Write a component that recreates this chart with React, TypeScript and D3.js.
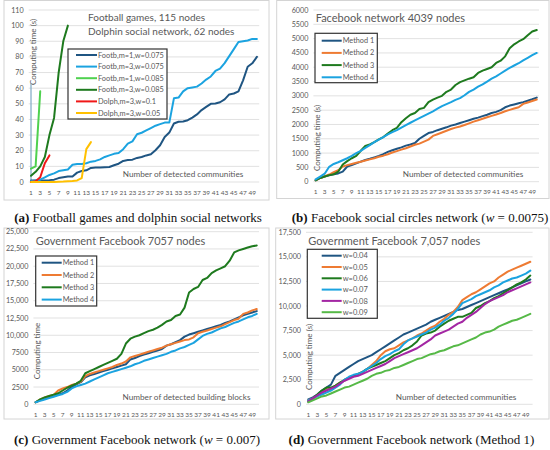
import React, { useEffect, useRef } from "react";
import * as d3 from "d3";

// category axis shared by all four panels
const communities = [
  1, 2, 3, 4, 5, 6, 7, 8, 9, 10, 11, 12, 13, 14, 15, 16, 17, 18, 19, 20, 21, 22, 23, 24, 25,
  26, 27, 28, 29, 30, 31, 32, 33, 34, 35, 36, 37, 38, 39, 40, 41, 42, 43, 44, 45, 46, 47, 48, 49, 50,
];

// (a) football games / dolphin social network
const footbM1W075 = [
  1, 1, 1, 1, 1.2, 1.5, 2.5, 3, 3.5, 3.5, 6, 7, 7.5, 9, 9.2, 9.2, 9.4, 9.6, 10.7, 11.7,
  13.5, 14, 14.3, 15.4, 16, 17, 17.7, 20.3, 23.5, 28.8, 31.6, 37.4, 38.5, 38.7, 39.5, 41.2, 43.2, 46, 48, 50,
  50.2, 51, 52.8, 56, 56.6, 58, 65, 73.7, 75.9, 80,
];
const footbM3W075 = [
  0.5, 1, 1.5, 3, 4.5, 5.5, 7, 7.5, 8, 11, 11.5, 11.5, 12, 13, 13.5, 14.5, 16, 17, 18, 18.5,
  21, 24.5, 26, 30.5, 31.5, 33, 34.5, 36, 37, 38, 38, 53.5, 54, 58, 60, 60.5, 61, 63, 65.5, 67.5,
  71, 72.5, 76, 80.5, 85, 89.5, 90, 90.5, 91.5, 91.5,
];
const footbM1W085 = [8.5, 10, 58];
const footbM3W085 = [4, 6.5, 10, 16, 30, 41, 70, 90, 100];
const dolphM3W1 = [0, 0.5, 3, 12, 17];
const dolphM3W05 = [0, 0, 0, 0, 0, 0, 0.2, 0.3, 0.5, 0.6, 1, 2.5, 21, 25.5];
const strayStroke = [63, 0]; // thin vertical stroke at category 1

// (b) Facebook network 4039 nodes
const fbMethod1 = [
  50, 130, 180, 220, 260, 290, 350, 530, 580, 640, 700, 760, 800, 850, 900, 960, 1040, 1100, 1150, 1200,
  1260, 1300, 1350, 1500, 1600, 1700, 1740, 1800, 1850, 1900, 1960, 2000, 2050, 2100, 2150, 2200, 2240, 2290, 2340, 2400,
  2440, 2500, 2600, 2660, 2700, 2740, 2780, 2830, 2880, 2940,
];
const fbMethod2 = [
  50, 130, 190, 250, 330, 400, 530, 580, 620, 660, 700, 740, 780, 820, 870, 910, 960, 1020, 1070, 1120,
  1170, 1230, 1290, 1330, 1400, 1470, 1600, 1660, 1720, 1780, 1840, 1890, 1930, 1980, 2040, 2100, 2150, 2200, 2250, 2300,
  2350, 2400, 2460, 2510, 2560, 2600, 2720, 2770, 2820, 2870,
];
const fbMethod3 = [
  50, 130, 180, 230, 260, 350, 600, 720, 820, 900, 1080, 1250, 1300, 1380, 1480, 1560, 1680, 1800, 1880, 2080,
  2220, 2340, 2400, 2540, 2580, 2780, 2870, 2940, 3000, 3140, 3220, 3380, 3480, 3540, 3600, 3650, 3800, 3880, 3940, 4000,
  4150, 4230, 4380, 4660, 4800, 4900, 4980, 5120, 5250, 5300,
];
const fbMethod4 = [
  80, 180, 280, 520, 620, 680, 750, 820, 900, 1000, 1080, 1180, 1280, 1380, 1470, 1560, 1650, 1730, 1800, 1890,
  1980, 2060, 2140, 2220, 2300, 2380, 2460, 2550, 2640, 2710, 2780, 2860, 2920, 3020, 3140, 3220, 3320, 3400, 3500, 3600,
  3680, 3780, 3880, 3980, 4060, 4140, 4240, 4330, 4420, 4500,
];

// (c) Government Facebook 7057 nodes, w = 0.007
const govMethod1 = [
  300, 600, 800, 1000, 1200, 1400, 1600, 2000, 2500, 2900, 3200, 3900, 4200, 4400, 4600, 4800, 5000, 5200, 5400, 5600,
  5800, 6500, 6700, 7000, 7200, 7400, 7600, 7800, 8000, 8500, 8700, 9000, 9300, 9800, 10100, 10300, 10500, 10700, 10900, 11100,
  11300, 11500, 11800, 12000, 12300, 12600, 12900, 13100, 13300, 13500,
];
const govMethod2 = [
  300, 700, 1000, 1200, 1400, 2000, 2300, 2500, 2800, 3000, 3300, 4100, 4400, 4600, 4800, 5000, 5200, 5400, 5700, 5900,
  6200, 6800, 7000, 7200, 7400, 7600, 7800, 8000, 8200, 8500, 8700, 8900, 9100, 9300, 9400, 9700, 10300, 10500, 10700, 10900,
  11100, 11300, 11600, 11900, 12200, 12400, 13100, 13300, 13600, 13800,
];
const govMethod3 = [
  300, 700, 1000, 1200, 1400, 1600, 2000, 2400, 2700, 3000, 3400, 4500, 4800, 5100, 5400, 5700, 6000, 6300, 6600, 7300,
  8800, 9500, 9800, 10000, 10300, 10600, 10800, 11100, 11500, 12000, 12200, 12800, 13000, 14000, 16200, 16700, 17000, 18000, 18300, 19000,
  19400, 19700, 20000, 20800, 22000, 22300, 22500, 22700, 22900, 23000,
];
const govMethod4 = [
  300, 500, 700, 900, 1100, 1300, 1500, 1800, 2300, 2600, 2800, 3000, 3300, 3600, 3900, 4200, 4500, 4700, 4900, 5100,
  5300, 5500, 5800, 6000, 6300, 6500, 6700, 6900, 7100, 7300, 7600, 7800, 8100, 8300, 8600, 8900, 9400, 9900, 10200, 10400,
  10700, 11000, 11200, 11500, 11800, 12000, 12300, 12600, 12800, 13100,
];

// (d) Government Facebook 7,057 nodes, Method 1
const govW004 = [
  500, 700, 1000, 1400, 1700, 2000, 2900, 3200, 3500, 3800, 4100, 4400, 4600, 4800, 5000, 5300, 5600, 5900, 6200, 6500,
  6800, 7100, 7300, 7500, 7700, 7900, 8100, 8400, 8600, 8800, 9000, 9200, 9400, 9600, 9700, 9900, 10100, 10300, 10500, 10700,
  10900, 11100, 11300, 11500, 11700, 11900, 12100, 12300, 12500, 12700,
];
const govW005 = [
  400, 600, 900, 1200, 1500, 1600, 1900, 2200, 2400, 2700, 2900, 3100, 3300, 3600, 4000, 4400, 5000, 5400, 5600, 5700,
  6000, 6300, 6500, 6700, 7000, 7200, 7500, 7800, 8000, 8400, 8700, 9100, 9400, 9900, 10600, 10900, 11200, 11400, 11700, 12000,
  12300, 12500, 12900, 13200, 13500, 13700, 13900, 14100, 14300, 14500,
];
const govW006 = [
  300, 600, 1000, 1400, 1700, 1700, 1900, 2200, 2500, 2700, 2900, 3100, 3300, 3600, 3800, 4000, 4200, 4400, 4700, 5000,
  5200, 5500, 5700, 6000, 6400, 7000, 7200, 7300, 7500, 7900, 8200, 8500, 8700, 8900, 8900, 9100, 9300, 9800, 10000, 10300,
  10500, 10800, 11000, 11300, 11600, 11900, 12200, 12400, 12700, 13100,
];
const govW007 = [
  400, 600, 800, 1000, 1200, 1400, 1700, 2000, 2500, 2800, 3000, 3100, 3300, 3600, 3900, 4200, 4600, 4900, 5100, 5400,
  5600, 6100, 6500, 6700, 6900, 7100, 7300, 7600, 7800, 8100, 8500, 8800, 9200, 9700, 10300, 10500, 10700, 11000, 11200, 11400,
  11600, 11900, 12100, 12400, 12600, 12800, 12900, 13100, 13300, 13600,
];
const govW008 = [
  300, 600, 900, 1200, 1400, 1600, 1800, 2100, 2400, 2600, 2800, 2900, 3100, 3300, 3500, 3700, 3900, 4100, 4400, 4700,
  4900, 5100, 5300, 5500, 5700, 6000, 6300, 6600, 7000, 7200, 7400, 7600, 7900, 8200, 8400, 8800, 9100, 9400, 9800, 10200,
  10500, 10700, 10900, 11100, 11400, 11600, 11800, 12000, 12200, 12400,
];
const govW009 = [
  200, 400, 600, 800, 900, 1100, 1300, 1500, 1700, 1800, 2000, 2200, 2400, 2600, 2900, 3100, 3200, 3400, 3500, 3700,
  3800, 4000, 4200, 4400, 4600, 4700, 4900, 5100, 5200, 5400, 5500, 5700, 5900, 6000, 6200, 6400, 6600, 6800, 7100, 7300,
  7400, 7600, 7900, 8100, 8300, 8500, 8600, 8800, 9000, 9200,
];

const DARK_BLUE = "#1f5582";
const LIGHT_BLUE = "#1ba3e0";
const ORANGE = "#ee7b33";
const DARK_GREEN = "#1e7a1e";
const TEXT = "#595959";
const FONT = "Lato, 'Open Sans', sans-serif";

interface Series {
  name: string;
  color: string;
  values: number[];
}

interface Panel {
  box: [number, number, number, number];
  left: number;
  right: number;
  top: number;
  bottom: number;
  yMax: number;
  yStep: number;
  yFormat: (v: number) => string;
  titles: string[];
  titleX: number;
  titleY: number;
  titleGap: number;
  titleSize: number;
  yTitle: string;
  yTitleX: number;
  yTitleY: number;
  xTitle: string;
  xTitleX: number;
  xTitleY: number;
  legend: { x: number; y: number; w: number; h: number; row0: number; step: number; l0: number; l1: number; size: number };
  series: Series[];
  caption: { tag: string; before: string; italic?: string; after?: string; x: number; y: number };
}

const comma = d3.format(",");

const panels: Panel[] = [
  {
    box: [4, 0.5, 269, 200],
    left: 28.7, right: 259.2, top: 10, bottom: 182,
    yMax: 110, yStep: 10, yFormat: (v) => String(v),
    titles: ["Football games, 115 nodes", "Dolphin social network, 62 nodes"],
    titleX: 88, titleY: 20.5, titleGap: 14, titleSize: 10,
    yTitle: "Computing time (s)", yTitleX: 36, yTitleY: 52,
    xTitle: "Number of detected communities", xTitleX: 183, xTitleY: 177,
    legend: { x: 68, y: 49, w: 99, h: 70, row0: 55, step: 11.6, l0: 76, l1: 97, size: 7.4 },
    series: [
      { name: "Footb,m=1,w=0.075", color: DARK_BLUE, values: footbM1W075 },
      { name: "Footb,m=3,w=0.075", color: LIGHT_BLUE, values: footbM3W075 },
      { name: "Footb,m=1,w=0.085", color: "#4fd14f", values: footbM1W085 },
      { name: "Footb,m=3,w=0.085", color: DARK_GREEN, values: footbM3W085 },
      { name: "Dolph,m=3,w=0.1", color: "#f01818", values: dolphM3W1 },
      { name: "Dolph,m=3,w=0.05", color: "#ffc000", values: dolphM3W05 },
    ],
    caption: { tag: "(a)", before: " Football games and dolphin social networks", x: 138, y: 222 },
  },
  {
    box: [276.7, 0.5, 549, 198.5],
    left: 313.4, right: 539, top: 10, bottom: 181.7,
    yMax: 6000, yStep: 500, yFormat: (v) => String(v),
    titles: ["Facebook network 4039 nodes"],
    titleX: 315.7, titleY: 22, titleGap: 0, titleSize: 11,
    yTitle: "Computing time (s)", yTitleX: 320, yTitleY: 138,
    xTitle: "Number of detected communities", xTitleX: 463, xTitleY: 177,
    legend: { x: 315, y: 33.3, w: 62.3, h: 49.4, row0: 40.7, step: 12.2, l0: 321.7, l1: 341.7, size: 7.3 },
    series: [
      { name: "Method 1", color: DARK_BLUE, values: fbMethod1 },
      { name: "Method 2", color: ORANGE, values: fbMethod2 },
      { name: "Method 3", color: DARK_GREEN, values: fbMethod3 },
      { name: "Method 4", color: LIGHT_BLUE, values: fbMethod4 },
    ],
    caption: { tag: "(b)", before: " Facebook social circles network (", italic: "w", after: " = 0.0075)", x: 420, y: 222 },
  },
  {
    box: [4, 228, 269, 419],
    left: 33.4, right: 259, top: 231.7, bottom: 404.3,
    yMax: 25000, yStep: 2500, yFormat: (v) => (v >= 10000 ? comma(v) : String(v)),
    titles: ["Government Facebook 7057 nodes"],
    titleX: 35.7, titleY: 245, titleGap: 0, titleSize: 11,
    yTitle: "Computing time", yTitleX: 39.5, yTitleY: 351,
    xTitle: "Number of detected building blocks", xTitleX: 186.5, xTitleY: 399.5,
    legend: { x: 35.7, y: 256, w: 61, h: 50, row0: 262.7, step: 12.3, l0: 41.7, l1: 61.7, size: 7.3 },
    series: [
      { name: "Method 1", color: DARK_BLUE, values: govMethod1 },
      { name: "Method 2", color: ORANGE, values: govMethod2 },
      { name: "Method 3", color: DARK_GREEN, values: govMethod3 },
      { name: "Method 4", color: LIGHT_BLUE, values: govMethod4 },
    ],
    caption: { tag: "(c)", before: " Government Facebook network (", italic: "w", after: " = 0.007)", x: 137, y: 444 },
  },
  {
    box: [275.7, 228, 549, 419],
    left: 306, right: 532.6, top: 232.3, bottom: 404.3,
    yMax: 17500, yStep: 2500, yFormat: (v) => comma(v),
    titles: ["Government Facebook 7,057 nodes"],
    titleX: 308.3, titleY: 245, titleGap: 0, titleSize: 11,
    yTitle: "Computing time (s)", yTitleX: 312, yTitleY: 357,
    xTitle: "Number of detected communities", xTitleX: 456, xTitleY: 399.5,
    legend: { x: 307.3, y: 249.3, w: 70, h: 69, row0: 255.7, step: 11.3, l0: 321.7, l1: 341.7, size: 7.5 },
    series: [
      { name: "w=0.04", color: DARK_BLUE, values: govW004 },
      { name: "w=0.05", color: ORANGE, values: govW005 },
      { name: "w=0.06", color: DARK_GREEN, values: govW006 },
      { name: "w=0.07", color: LIGHT_BLUE, values: govW007 },
      { name: "w=0.08", color: "#a326a3", values: govW008 },
      { name: "w=0.09", color: "#56b947", values: govW009 },
    ],
    caption: { tag: "(d)", before: " Government Facebook network (Method 1)", x: 411.5, y: 444 },
  },
];

export default function App() {
  const svgRef = useRef<SVGSVGElement>(null);

  useEffect(() => {
    if (!svgRef.current) return;
    const svg = d3.select(svgRef.current);
    svg.selectAll("*").remove();

    panels.forEach((p, pi) => {
      const g = svg.append("g");
      const [bx0, by0, bx1, by1] = p.box;

      g.append("rect")
        .attr("x", bx0).attr("y", by0)
        .attr("width", bx1 - bx0).attr("height", by1 - by0)
        .attr("fill", "#fff").attr("stroke", "#d4d4d4").attr("stroke-width", 1);

      const x = d3.scaleBand<number>().domain(communities).range([p.left, p.right]);
      const cx = (c: number) => (x(c) ?? 0) + x.bandwidth() / 2;
      const y = d3.scaleLinear().domain([0, p.yMax]).range([p.bottom, p.top]);
      const yTicks = d3.range(0, p.yMax + 1, p.yStep);

      // horizontal gridlines
      g.append("g").selectAll("line").data(yTicks).join("line")
        .attr("x1", p.left).attr("x2", p.right)
        .attr("y1", (d) => y(d)).attr("y2", (d) => y(d))
        .attr("stroke", "#d9d9d9").attr("stroke-width", 0.8);

      // y tick labels
      g.append("g").selectAll("text").data(yTicks).join("text")
        .attr("x", p.left - 5).attr("y", (d) => y(d))
        .attr("dy", "0.35em").attr("text-anchor", "end")
        .attr("font-family", FONT).attr("font-size", 7.2).attr("fill", TEXT)
        .text((d) => p.yFormat(d));

      // x tick labels on odd categories
      g.append("g").selectAll("text").data(communities.filter((c) => c % 2 === 1)).join("text")
        .attr("x", (d) => cx(d)).attr("y", p.bottom + 12.5)
        .attr("text-anchor", "middle")
        .attr("font-family", FONT).attr("font-size", 6.5).attr("fill", TEXT)
        .text((d) => String(d));

      // chart title(s)
      p.titles.forEach((t, i) => {
        g.append("text")
          .attr("x", p.titleX).attr("y", p.titleY + i * p.titleGap)
          .attr("font-family", FONT).attr("font-size", p.titleSize).attr("fill", TEXT)
          .text(t);
      });

      // axis titles
      g.append("text")
        .attr("transform", `translate(${p.yTitleX},${p.yTitleY}) rotate(-90)`)
        .attr("text-anchor", "middle")
        .attr("font-family", FONT).attr("font-size", 8).attr("fill", TEXT)
        .text(p.yTitle);
      g.append("text")
        .attr("x", p.xTitleX).attr("y", p.xTitleY)
        .attr("text-anchor", "middle")
        .attr("font-family", FONT).attr("font-size", 8.2).attr("fill", TEXT)
        .text(p.xTitle);

      if (pi === 0) {
        g.append("line")
          .attr("x1", cx(communities[0])).attr("x2", cx(communities[0]))
          .attr("y1", y(strayStroke[0])).attr("y2", y(strayStroke[1]))
          .attr("stroke", "#7ea8c4").attr("stroke-width", 1.2);
      }

      // series lines
      const line = d3.line<number>()
        .x((_, i) => cx(communities[i]))
        .y((d) => y(d));
      g.append("g").selectAll("path").data(p.series).join("path")
        .attr("d", (s) => line(s.values))
        .attr("fill", "none")
        .attr("stroke", (s) => s.color)
        .attr("stroke-width", 2)
        .attr("stroke-linejoin", "round")
        .attr("stroke-linecap", "round");

      // legend
      const L = p.legend;
      const lg = g.append("g");
      lg.append("rect")
        .attr("x", L.x).attr("y", L.y).attr("width", L.w).attr("height", L.h)
        .attr("fill", "#fff").attr("stroke", "#333").attr("stroke-width", 1.2);
      p.series.forEach((s, i) => {
        const ry = L.row0 + i * L.step;
        lg.append("line")
          .attr("x1", L.l0).attr("x2", L.l1).attr("y1", ry).attr("y2", ry)
          .attr("stroke", s.color).attr("stroke-width", 2);
        lg.append("text")
          .attr("x", L.l1 + 1).attr("y", ry).attr("dy", "0.35em")
          .attr("font-family", FONT).attr("font-size", L.size).attr("fill", TEXT)
          .text(s.name);
      });

      // caption below the panel
      const c = p.caption;
      const ct = svg.append("text")
        .attr("x", c.x).attr("y", c.y)
        .attr("text-anchor", "middle")
        .attr("font-family", "'Liberation Serif', 'DejaVu Serif', serif")
        .attr("font-size", 13).attr("fill", "#111");
      ct.append("tspan").attr("font-weight", "bold").text(c.tag);
      ct.append("tspan").text(c.before);
      if (c.italic) {
        ct.append("tspan").attr("font-style", "italic").text(c.italic);
        ct.append("tspan").text(c.after ?? "");
      }
    });
  }, []);

  return (
    <svg
      ref={svgRef}
      width={550}
      height={450}
      style={{ position: "absolute", left: 0, top: 0, background: "#fff" }}
    />
  );
}
